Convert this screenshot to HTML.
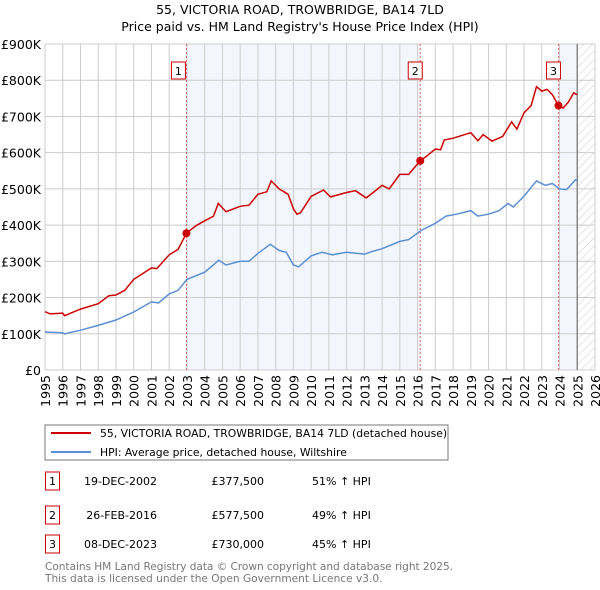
<!DOCTYPE html>
<html><head><meta charset="utf-8"><style>
body{margin:0;background:#fff;font-family:"Liberation Sans","DejaVu Sans",sans-serif;}
#wrap{position:relative;width:600px;height:590px;overflow:hidden}
svg text{font-family:"DejaVu Sans","Liberation Sans",sans-serif}
</style></head><body><div id="wrap">
<svg id="chart" width="600" height="590">
<text x="300" y="14" text-anchor="middle" font-size="12.5">55, VICTORIA ROAD, TROWBRIDGE, BA14 7LD</text>
<text x="300" y="31" text-anchor="middle" font-size="12.5">Price paid vs. HM Land Registry's House Price Index (HPI)</text>
<defs><pattern id="hatch" width="6" height="6" patternUnits="userSpaceOnUse" patternTransform="rotate(45)"><line x1="0" y1="0" x2="0" y2="6" stroke="#ccc" stroke-width="1"/></pattern></defs>
<g id="plot"></g>
<rect x="45" y="425" width="403" height="35" fill="#fff" stroke="#777"/>
<line x1="51" y1="433" x2="91" y2="433" stroke="#cc0000" stroke-width="2"/>
<text x="100" y="437" font-size="10.8">55, VICTORIA ROAD, TROWBRIDGE, BA14 7LD (detached house)</text>
<line x1="51" y1="452" x2="91" y2="452" stroke="#5b8fd4" stroke-width="2"/>
<text x="100" y="456" font-size="10.8">HPI: Average price, detached house, Wiltshire</text>
<g id="table" font-size="11"></g>
<text x="45" y="570" font-size="10.6" fill="#777" textLength="408">Contains HM Land Registry data © Crown copyright and database right 2025.</text>
<text x="45" y="582" font-size="10.6" fill="#777">This data is licensed under the Open Government Licence v3.0.</text>
</svg></div>
<script>
const redYears=[1995,1995.3,1996,1996.1,1997,1998,1998.6,1999,1999.5,2000,2001,2001.3,2002,2002.5,2002.97,2003.5,2004,2004.5,2004.77,2005.2,2006,2006.5,2007,2007.5,2007.75,2008.2,2008.7,2009,2009.2,2009.4,2010,2010.7,2011.1,2012,2012.5,2013.1,2013.5,2014,2014.4,2015,2015.5,2016.15,2016.5,2017,2017.3,2017.5,2018,2019,2019.4,2019.7,2020.2,2020.8,2021.3,2021.6,2022,2022.4,2022.7,2023,2023.3,2023.6,2023.94,2024.2,2024.5,2024.8,2025];
const redValues=[161,155,157,150,168,183,205,207,220,250,282,280,318,333,377.5,398,412,425,460,437,452,455,485,492,522,500,485,445,430,434,479,497,478,490,495,475,490,510,500,540,540,577.5,590,610,608,635,640,655,633,650,632,645,685,665,710,730,782,770,775,760,730,723,740,765,760];
const hpiYears=[1995,1996,1996.1,1997,1998,1999,2000,2001,2001.4,2002,2002.5,2003,2004,2004.8,2005.2,2006,2006.5,2007,2007.7,2008.2,2008.6,2009,2009.3,2010,2010.6,2011.2,2012,2013,2013.5,2014,2015,2015.5,2016.2,2017,2017.6,2018.2,2019,2019.4,2020,2020.6,2021.1,2021.4,2022,2022.7,2023.2,2023.6,2024,2024.4,2024.9,2025];
const hpiValues=[105,103,100,110,123,138,160,188,185,210,220,250,270,303,290,300,300,322,347,330,325,290,285,315,325,318,325,320,328,335,355,360,385,405,425,430,440,425,430,440,460,450,480,522,510,515,500,498,525,523];
const yTicks=[0,100,200,300,400,500,600,700,800,900];
const yTickLabels=["£0","£100K","£200K","£300K","£400K","£500K","£600K","£700K","£800K","£900K"];
const xTicks=[1995,1996,1997,1998,1999,2000,2001,2002,2003,2004,2005,2006,2007,2008,2009,2010,2011,2012,2013,2014,2015,2016,2017,2018,2019,2020,2021,2022,2023,2024,2025,2026];
const saleYears=[2002.97,2016.15,2023.94];
const saleValues=[377.5,577.5,730];
const saleLabels=["1","2","3"];
const saleDates=["19-DEC-2002","26-FEB-2016","08-DEC-2023"];
const salePrices=["£377,500","£577,500","£730,000"];
const saleDiffs=["51% ↑ HPI","49% ↑ HPI","45% ↑ HPI"];
const X0=45,X1=595,Y0=370,Y1=44,dataEnd=2025;
const xs=y=>X0+(y-1995)/(2026-1995)*(X1-X0);
const ys=v=>Y0-v/900*(Y0-Y1);
const NS="http://www.w3.org/2000/svg";
const plot=document.getElementById('plot');
function mk(tag,attrs,parent){const e=document.createElementNS(NS,tag);for(const k in attrs)e.setAttribute(k,attrs[k]);(parent||plot).appendChild(e);return e;}
let e;
e=mk('rect',{x:xs(saleYears[0]),y:Y1,width:xs(saleYears[1])-xs(saleYears[0]),height:Y0-Y1,fill:'#eef3fc',opacity:0.7});


e=mk('rect',{x:xs(saleYears[2]),y:Y1,width:xs(dataEnd)-xs(saleYears[2]),height:Y0-Y1,fill:'#eef3fc',opacity:0.7});


e=mk('rect',{x:xs(dataEnd),y:Y1,width:X1-xs(dataEnd),height:Y0-Y1,fill:'url(#hatch)'});


yTicks.forEach((t,i)=>{
  e=mk('line',{x1:X0,x2:X1,y1:ys(t),y2:ys(t),stroke:'#ccc'});
  
  
  e=mk('text',{x:X0-4,y:ys(t)+5,'text-anchor':'end','font-size':'12.5'});e.textContent=yTickLabels[i];
  
  
});
xTicks.forEach(t=>{
  e=mk('line',{x1:xs(t),x2:xs(t),y1:Y1,y2:Y0,stroke:'#ccc'});
  
  
  e=mk('text',{x:0,y:0,'font-size':'12.5','text-anchor':'end',transform:`translate(${xs(t)+5},${Y0+5}) rotate(-90)`});e.textContent=t;
  
  
});
e=mk('line',{x1:xs(dataEnd),x2:xs(dataEnd),y1:Y1,y2:Y0,stroke:'#888','stroke-width':1.5});


saleYears.forEach((s,i)=>{
  e=mk('line',{x1:xs(s),x2:xs(s),y1:Y1,y2:Y0,stroke:'#e06060','stroke-dasharray':'2,2'});
  
  
  e=mk('rect',{x:xs(s)-12+(i==0?-3:0),y:62,width:14,height:17,fill:'#fff',stroke:'#cc0000'});
  
  
  e=mk('text',{x:xs(s)-5+(i==0?-3:0),y:75,'text-anchor':'middle','font-size':'11'});e.textContent=saleLabels[i];
  
  
});
function path(xa,va){return xa.map((x,i)=>(i?'L':'M')+xs(x).toFixed(1)+','+ys(va[i]).toFixed(1)).join('');}
e=mk('path',{d:path(hpiYears,hpiValues),fill:'none',stroke:'#5b8fd4','stroke-width':1.5});


e=mk('path',{d:path(redYears,redValues),fill:'none',stroke:'#cc0000','stroke-width':1.5});


saleYears.forEach((s,i)=>{
  e=mk('circle',{cx:xs(s),cy:ys(saleValues[i]),r:4,fill:'#cc0000'});
  
  
});
const tbl=document.getElementById('table');
const rowY=[482,516,545];
saleLabels.forEach((l,i)=>{
  const y=rowY[i];
  e=mk('rect',{x:45.5,y:y-10,width:14,height:18,fill:'#fff',stroke:'#cc0000'},tbl);
  
  
  e=mk('text',{x:52.5,y:y+3,'text-anchor':'middle'},tbl);e.textContent=l;
  
  
  e=mk('text',{x:157,y:y+3,'text-anchor':'end'},tbl);e.textContent=saleDates[i];
  
  
  e=mk('text',{x:264,y:y+3,'text-anchor':'end'},tbl);e.textContent=salePrices[i];
  
  
  e=mk('text',{x:312,y:y+3},tbl);e.textContent=saleDiffs[i];
  
  
});
</script></body></html>
